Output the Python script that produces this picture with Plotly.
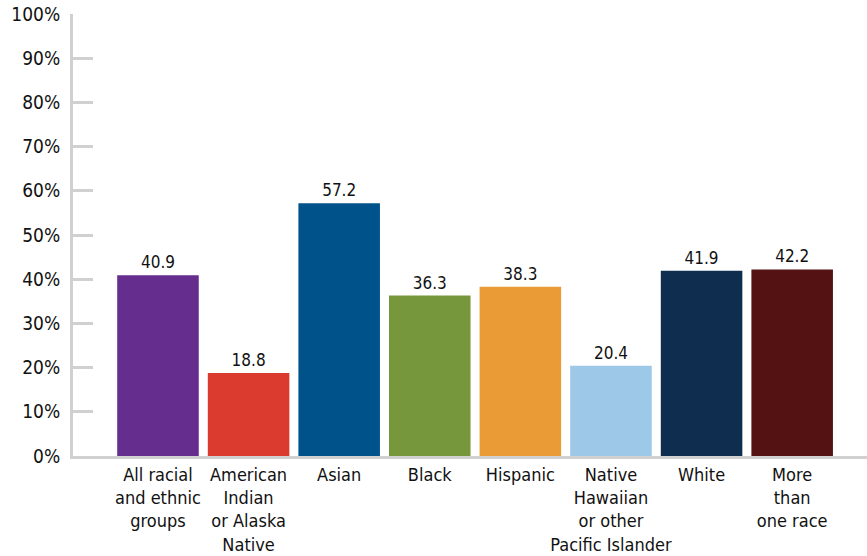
import plotly.graph_objects as go

categories = ["All racial<br>and ethnic<br>groups", "American<br>Indian<br>or Alaska<br>Native", "Asian", "Black",
              "Hispanic", "Native<br>Hawaiian<br>or other<br>Pacific Islander", "White", "More<br>than<br>one race"]
values = [40.9, 18.8, 57.2, 36.3, 38.3, 20.4, 41.9, 42.2]
colors = ["#652D8E", "#DB3A2E", "#00528A", "#76973B", "#EB9B35", "#9DC8E8", "#0F2D4F", "#541212"]
y_ticks = [0, 10, 20, 30, 40, 50, 60, 70, 80, 90, 100]

FONT = "DejaVu Sans Condensed, DejaVu Sans, sans-serif"

fig = go.Figure(go.Bar(
    x=list(range(len(categories))), y=values,
    marker=dict(color=colors, line=dict(width=0)),
    text=[f"{v:.1f}" for v in values], textposition="outside",
    textfont=dict(size=17, color="#111111", family=FONT),
    cliponaxis=False, hoverinfo="skip",
))

fig.update_layout(
    width=867, height=556,
    margin=dict(l=73, r=0, t=14, b=100),
    plot_bgcolor="white", paper_bgcolor="white",
    bargap=0.1, showlegend=False,
    font=dict(family=FONT, size=18, color="#111111"),
    xaxis=dict(
        range=[-0.938, 7.826], tickmode="array",
        tickvals=list(range(len(categories))), ticktext=categories,
        showline=True, linecolor="#d0d0d0", linewidth=3,
        showgrid=False, zeroline=False, ticks="",
        tickangle=0, automargin=False,
        tickfont=dict(size=18, family=FONT),
    ),
    yaxis=dict(
        range=[0, 100], tickmode="array", tickvals=y_ticks,
        ticktext=[f"{t}%" for t in y_ticks],
        showline=True, linecolor="#d0d0d0", linewidth=3,
        ticks="inside", ticklen=20, tickwidth=3, tickcolor="#d0d0d0",
        showgrid=False, zeroline=False, automargin=False,
        ticklabelstandoff=6, ticklabeloverflow="allow",
        tickfont=dict(size=19, family=FONT),
    ),
)

fig.write_html("out.html", config={"displayModeBar": False},
               post_script="document.body.style.margin='0';document.body.style.overflow='hidden';")
